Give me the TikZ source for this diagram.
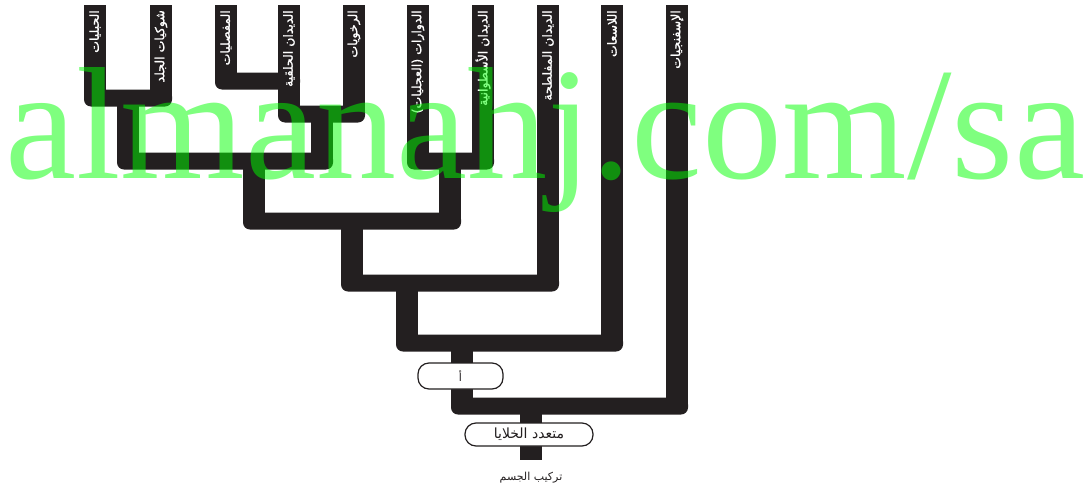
\documentclass[tikz,border=0pt]{standalone}
\usepackage{fontspec}
\setmainfont{Liberation Serif}
\newfontfamily\arabicfont[Script=Arabic]{DejaVu Sans}
\newfontfamily\arabicheavy[Script=Arabic,FakeBold=1.2]{DejaVu Sans}
\TeXXeTstate=1

\definecolor{cladeblack}{HTML}{231F20}
\definecolor{markgreen}{HTML}{00FF00}

\tikzset{
  bar/.style={fill=cladeblack},
  crossbar/.style={fill=cladeblack,rounded corners=7pt},
  taxon/.style={text=white,rotate=90,anchor=east,inner sep=0pt,
    font=\arabicheavy\fontsize{12.5}{12.5}\selectfont},
  stage/.style={draw=cladeblack,fill=white,line width=1.2pt,rounded corners=11pt,
    text=cladeblack}
}

\begin{document}
\begin{tikzpicture}[x=1pt,y=-1pt]
      \useasboundingbox (0,0) rectangle (1089,490);
      % leaf branches
      \foreach \x/\b in {95/98, 161/98, 226/81, 289/114, 354/114,
                         418/161, 483/161, 548/283, 612/343, 677/406}
        \fill[bar] (\x-11,5) rectangle (\x+11,\b);
      % inner branches
      \foreach \x/\t/\b in {128/98/161, 322/114/161, 254/161/221, 450/161/221,
                            352/221/283, 407/283/343, 462/343/406, 531/406/460}
        \fill[bar] (\x-11,\t) rectangle (\x+11,\b);
      % joins
      \foreach \l/\r/\y in {95/161/98, 226/289/81, 289/354/114, 128/322/161, 418/483/161,
                            254/450/221, 352/548/283, 407/612/343, 462/677/406}
        \fill[crossbar] (\l-11,\y-8.5) rectangle (\r+11,\y+8.5);
      % taxa
      \foreach \x/\n/\t in {95/chordates/الحبليات,
                            161/echinoderms/شوكيات الجلد,
                            226/arthropods/المفصليات,
                            289/annelids/الديدان الحلقية,
                            354/mollusks/الرخويات,
                            418/rotifers/الدوارات (العجليات),
                            483/roundworms/الديدان الأسطوانية,
                            548/flatworms/الديدان المفلطحة,
                            612/cnidarians/اللاسعات,
                            677/sponges/الإسفنجيات}
        \node[taxon] (\n) at (\x,10) {\beginR\t\endR};
      \node[stage,minimum width=85pt,minimum height=26pt,
            font=\arabicfont\fontsize{11}{11}\selectfont] (tissue) at (460.5,376) {\beginR أ\endR};
      \node[stage,minimum width=128pt,minimum height=23pt,inner sep=0pt,
            font=\arabicfont\fontsize{14}{14}\selectfont] (multicell) at (529,434.5) {\beginR متعدد الخلايا\endR};
      \node[font=\arabicfont\fontsize{11}{11}\selectfont,text=cladeblack] (plan) at (531,478) {\beginR تركيب الجسم\endR};
      \node[text=markgreen,opacity=0.5,anchor=base west,inner sep=0pt,
            font=\fontsize{160}{160}\selectfont] (mark) at (5,178) {almanahj.com/sa};
\end{tikzpicture}
\end{document}
